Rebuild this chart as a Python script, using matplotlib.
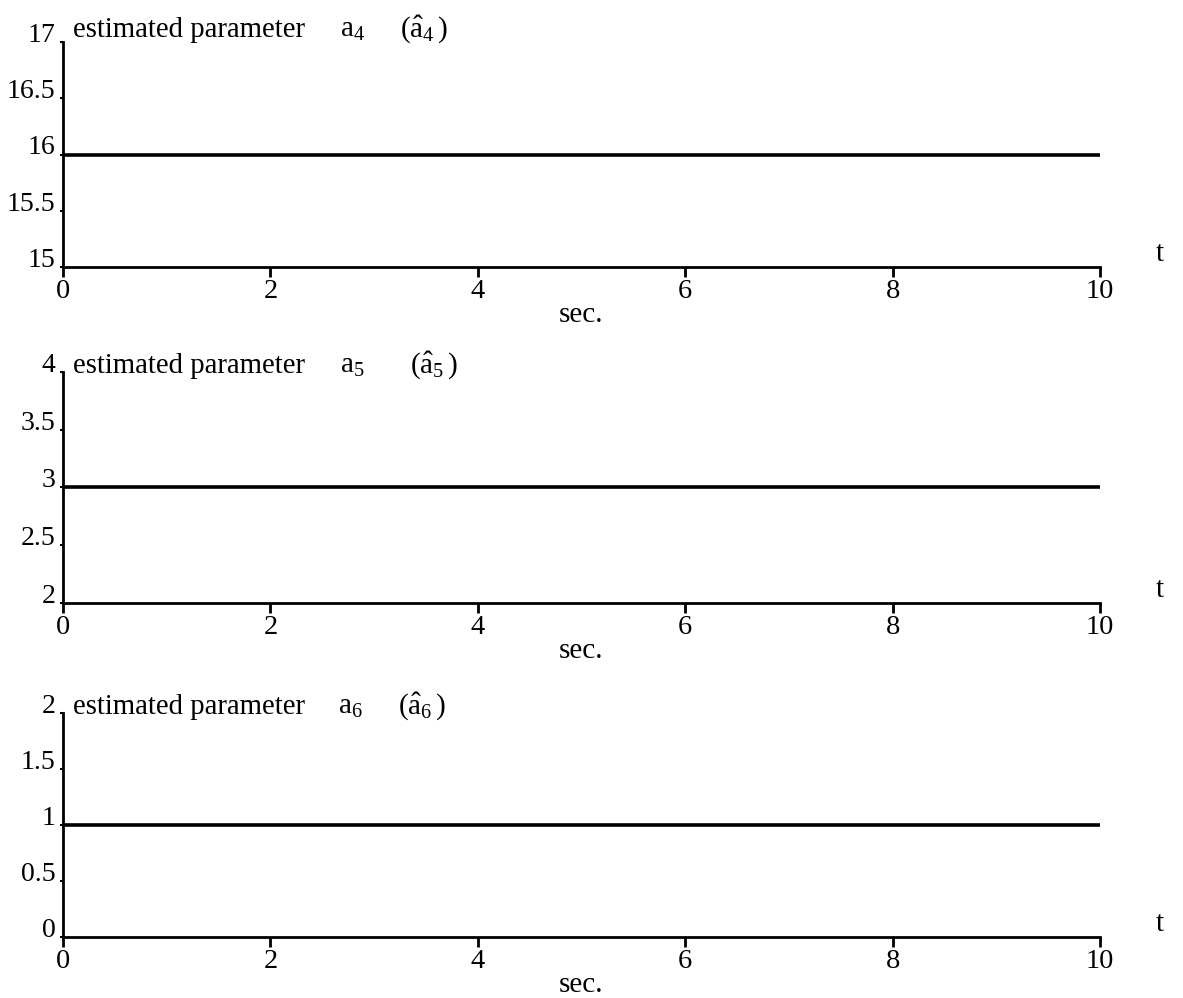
import matplotlib
matplotlib.use("Agg")
import matplotlib.pyplot as plt

plt.rcParams['font.family'] = ['Liberation Serif', 'DejaVu Serif']
plt.rcParams['mathtext.fontset'] = 'custom'
plt.rcParams['mathtext.rm'] = 'Liberation Serif'
plt.rcParams['mathtext.it'] = 'Liberation Serif:italic'

# data
t = [0, 10]
a4_hat = [16, 16]
a5_hat = [3, 3]
a6_hat = [1, 1]

x_ticks = [0, 2, 4, 6, 8, 10]
panels = [
    {"y": a4_hat, "ylim": (15, 17), "yticks": [15, 15.5, 16, 16.5, 17],
     "ylabels": ["15", "15.5", "16", "16.5", "17"], "idx": "4", "a_x": 277, "hat_x": 337},
    {"y": a5_hat, "ylim": (2, 4), "yticks": [2, 2.5, 3, 3.5, 4],
     "ylabels": ["2", "2.5", "3", "3.5", "4"], "idx": "5", "a_x": 277, "hat_x": 347},
    {"y": a6_hat, "ylim": (0, 2), "yticks": [0, 0.5, 1, 1.5, 2],
     "ylabels": ["0", "0.5", "1", "1.5", "2"], "idx": "6", "a_x": 275, "hat_x": 335},
]

fig = plt.figure(figsize=(11.83, 9.98), dpi=100)
left, width = 63 / 1183, (1100 - 63) / 1183
# pixel rows of the top and bottom of each panel
bounds = [(42, 267), (372, 603), (713, 937)]
title_dy = [5, -1, -1]

for p, (top, bot), dy in zip(panels, bounds, title_dy):
    ax = fig.add_axes([left, 1 - bot / 998, width, (bot - top) / 998])
    ax.plot(t, p["y"], color="black", lw=2.6, solid_capstyle="butt")
    ax.set_xlim(0, 10)
    ax.set_ylim(*p["ylim"])
    ax.spines["top"].set_visible(False)
    ax.spines["right"].set_visible(False)
    ax.spines["left"].set_linewidth(2)
    ax.spines["bottom"].set_linewidth(2)
    ax.set_xticks(x_ticks)
    ax.set_xticklabels([str(v) for v in x_ticks])
    ax.set_yticks(p["yticks"])
    ax.set_yticklabels(p["ylabels"])
    ax.tick_params(axis="x", direction="out", length=7, width=2, pad=2, labelsize=20.5)
    ax.tick_params(axis="y", direction="out", length=2.5, width=1.5, pad=3, labelsize=20)
    for lbl in ax.get_yticklabels():
        lbl.set_verticalalignment("baseline")

    ax.annotate("estimated parameter", xy=(0, 1), xycoords="axes fraction",
                xytext=(10, dy), textcoords="offset pixels", fontsize=20.7, va="baseline")
    ax.annotate(r"$\mathrm{a}_{%s}$" % p["idx"], xy=(0, 1), xycoords="axes fraction",
                xytext=(p["a_x"], dy), textcoords="offset pixels", fontsize=21, va="baseline")
    ax.annotate(r"$(\hat{\mathrm{a}}_{%s}\,)$" % p["idx"], xy=(0, 1), xycoords="axes fraction",
                xytext=(p["hat_x"], dy), textcoords="offset pixels", fontsize=21, va="baseline")
    ax.annotate("t", xy=(1, 0), xycoords="axes fraction", xytext=(60, 0),
                textcoords="offset pixels", fontsize=21, ha="center", va="bottom")
    ax.annotate("sec.", xy=(0.5, 0), xycoords="axes fraction", xytext=(0, -55),
                textcoords="offset pixels", fontsize=21, ha="center", va="baseline")

fig.savefig("out.png", dpi=100, facecolor="white")
